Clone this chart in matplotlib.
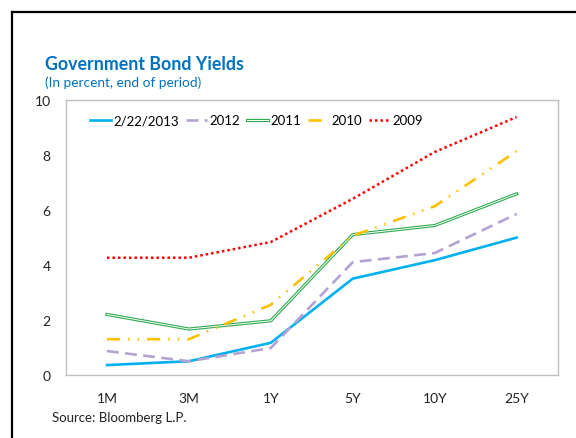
import matplotlib.pyplot as plt
import matplotlib.patheffects as pe
from matplotlib.lines import Line2D

plt.rcParams['font.family'] = ['Lato', 'DejaVu Sans']

tenors = ["1M", "3M", "1Y", "5Y", "10Y", "25Y"]
y2013 = [0.36, 0.50, 1.17, 3.50, 4.17, 4.99]
y2012 = [0.87, 0.50, 0.98, 4.10, 4.43, 5.85]
y2011 = [2.20, 1.67, 1.97, 5.10, 5.43, 6.58]
y2010 = [1.30, 1.30, 2.55, 5.06, 6.13, 8.13]
y2009 = [4.26, 4.26, 4.83, 6.40, 8.10, 9.37]

fig = plt.figure(figsize=(5.76, 4.39), dpi=100)
ax = fig.add_axes([0.1146, 0.1435, 0.8534, 0.6271])
x = range(len(tenors))

ax.plot(x, y2013, color="#00B0F0", lw=1.9, label="2/22/2013")
ax.plot(x, y2012, color="#B4A2D2", lw=1.9, dashes=(4.5, 2.4), label="2012")
ax.plot(x, y2011, color="white", lw=0.7, label="2011",
        path_effects=[pe.Stroke(linewidth=2.3, foreground="#2EAA4F"), pe.Normal()])
ax.plot(x, y2010, color="#FFC000", lw=1.9, dashes=(5, 3, 0.6, 3, 0.6, 3), label="2010")
ax.plot(x, y2009, color="#FF0000", lw=1.8, dashes=(1, 1.2), label="2009")

ax.set_xlim(-0.5, 5.5)
ax.set_ylim(0, 10)
ax.set_xticks(list(x))
ax.set_xticklabels(tenors)
ax.set_yticks([0, 2, 4, 6, 8, 10])
ax.tick_params(length=0, labelsize=10, colors="#222222")
ax.tick_params(axis="y", pad=11)
ax.tick_params(axis="x", pad=12)
for s in ax.spines.values():
    s.set_color("#BFBFBF")
    s.set_linewidth(1)

ax.legend(loc="upper left", bbox_to_anchor=(0.025, 0.99), ncol=5, frameon=False,
          fontsize=9.5, handlelength=1.6, handletextpad=0.15, columnspacing=0.55)

fig.text(0.078, 0.853, "Government Bond Yields", color="#0070C0",
         fontsize=12.8, fontweight="bold", va="center")
fig.text(0.078, 0.811, "(In percent, end of period)", color="#0070C0",
         fontsize=9.8, va="center")
fig.text(0.09, 0.048, "Source: Bloomberg L.P.", fontsize=9.5, va="center", color="#222222")

# frame lines at top and left
fig.add_artist(Line2D([12 / 576, 1], [1 - 13 / 439, 1 - 13 / 439], color="black", lw=1.6))
fig.add_artist(Line2D([12 / 576, 12 / 576], [0, 1 - 13 / 439], color="black", lw=1.6))

fig.savefig("out.png")
